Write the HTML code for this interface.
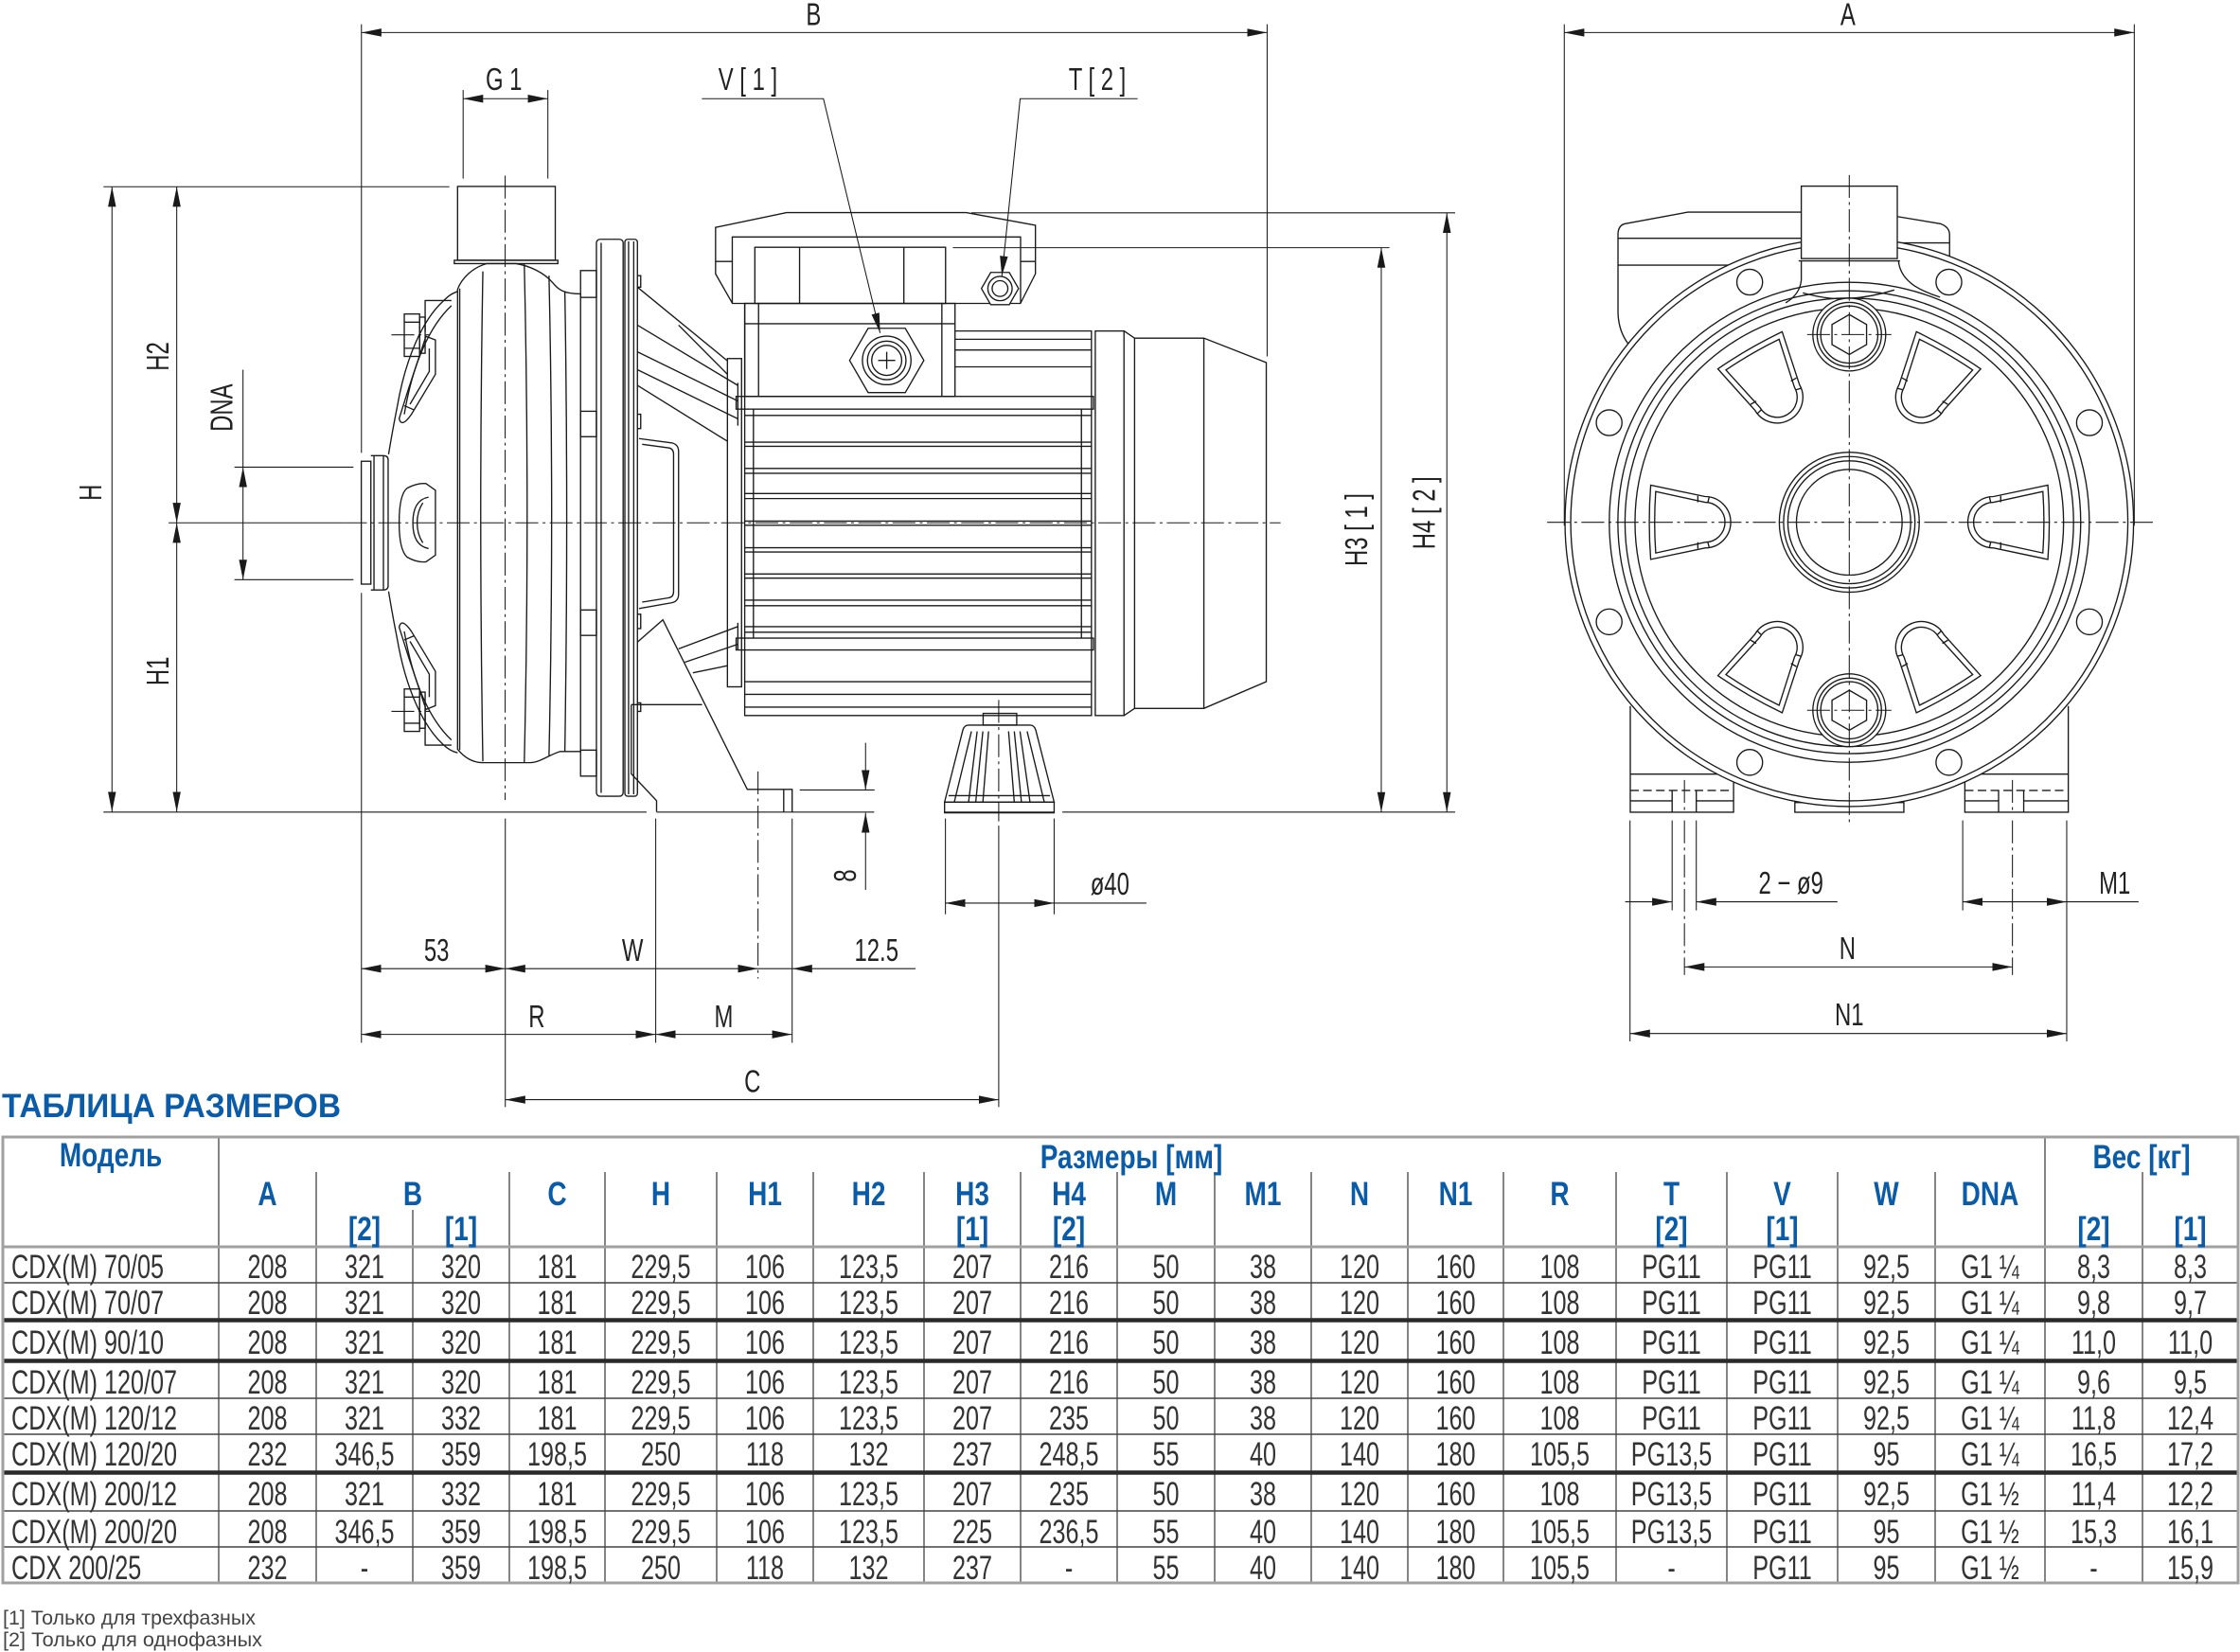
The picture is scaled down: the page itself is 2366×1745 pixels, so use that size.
<!DOCTYPE html>
<html><head><meta charset="utf-8"><style>
html,body{margin:0;padding:0;background:#fff;}
svg{display:block;}
.l{stroke:#1a1a1a;stroke-width:0.9;fill:none;}
.d{stroke:#1a1a1a;stroke-width:0.7;fill:none;}
.c{stroke:#1a1a1a;stroke-width:0.7;fill:none;stroke-dasharray:16 3 2 3;}
.dl{font-family:"Liberation Sans",sans-serif;font-size:22px;fill:#222;text-anchor:middle;}
.hb{font-family:"Liberation Sans","Noto Sans CJK SC",sans-serif;font-weight:bold;font-size:35px;fill:#0a5ca8;text-anchor:middle;}
.td{font-family:"Liberation Sans",sans-serif;font-size:35px;fill:#333;text-anchor:middle;}
.tm{font-family:"Liberation Sans",sans-serif;font-size:35px;fill:#333;text-anchor:start;}
</style></head><body>
<svg width="2366" height="1745" viewBox="0 0 2366 1745" xmlns="http://www.w3.org/2000/svg">
<defs>
<marker id="ar" viewBox="0 -3 14 6" refX="14" refY="0" markerWidth="14" markerHeight="6" markerUnits="userSpaceOnUse" orient="auto-start-reverse"><path d="M0,-2.8 L14,0 L0,2.8 z" fill="#1a1a1a"/></marker>
<g id="win" class="l">
<path d="M139,-26 L101,-18 A18,18 0 0 0 101,18 L139,26 Q141,0 139,-26 Z" fill="#fff"/>
<path d="M135.5,-21.5 L101,-14 A14,14 0 0 0 101,14 L135.5,21.5 Q137,0 135.5,-21.5 Z"/>
<path d="M106,-18.5 L106,-14 M106,18.5 L106,14 M98,-18 L99,-14 M98,18 L99,14"/>
</g>
</defs>

<g transform="scale(1.50893)">
<!-- ================= SIDE VIEW ================= -->
<!-- outlet pipe -->
<g class="l">
<rect x="320.3" y="130.5" width="68.4" height="51.7"/>
<path d="M318,182.2 H390.5 V184.5 H318 Z"/>
<!-- body -->
<path d="M320.3,202.6 C323,195 331,187 341,184.5 L361,184.5 C371,186 381,191 387,198 C391,203 395,205.7 406.4,205.7 L406.4,526.1 L392,526.1 C385,528 378,533.9 371,533.9 L338,533.9 C330,533.9 324,529 320.3,524.5 Z"/>
<line x1="321.8" y1="202" x2="321.8" y2="525"/>
<path d="M338,190 Q335,360 338,533"/>
<path d="M367,184.5 Q371,360 367,533.9"/>
<path d="M384.3,193 Q388,360 384.3,529"/>
<path d="M395.4,204 Q398,360 395.4,526"/>
<!-- front cover -->
<path d="M320.3,204 C315,206 313,208 310,211 C296,224 284,250 278,285 C275,300 273,312 272,318 M272,414 C273,420 275,432 278,447 C284,482 296,508 310,521 C313,524 316,526 320.3,527"/>
<path d="M316,214 C301,228 289,254 283,290 M283,442 C289,478 301,504 316,518"/>
<path d="M297.6,210 L297.6,232 M297.6,496 L297.6,522 M297.6,210.4 L316,210.4 M297.6,521.6 L316,521.6"/>
<!-- inlet -->
<rect x="252.9" y="322.9" width="6.7" height="86"/>
<path d="M259.6,319 L268.4,319 Q271.7,319 271.7,322 L271.7,410 Q271.7,413 268.4,413 L259.6,413"/>
<line x1="261.8" y1="319" x2="261.8" y2="413"/>
<line x1="268.4" y1="319" x2="268.4" y2="413"/>
<!-- bolts -->
<rect x="283" y="219.8" width="10.7" height="29.7"/>
<path d="M283,225.5 H293.7 M283,243.8 H293.7"/>
<rect x="293.7" y="222" width="3.9" height="25.3"/>
<rect x="283" y="482.3" width="10.7" height="29.7"/>
<path d="M283,488 H293.7 M283,506.3 H293.7"/>
<rect x="293.7" y="484.5" width="3.9" height="25.3"/>
<!-- cover windows -->
<path d="M298.2,235.4 L304.8,238 L304.8,262 L288,290 Q281,300 279.4,293 L286,272 Z"/>
<path d="M300.5,244 L300.5,260 L287,283 M283,284 L290,287"/>
<path d="M285,341.7 Q292,338 298.2,338.5 L304.8,343.2 L304.8,388.6 L298.2,393.3 Q292,394 285,390 Q279.4,385 279.4,366 Q279.4,346 285,341.7 Z"/>
<path d="M300,348 Q289,350 289,366 Q289,382 300,384 M296,352 Q292,358 292,366 Q292,374 296,380"/>
<path d="M298.2,496.6 L304.8,494 L304.8,470 L288,442 Q281,432 279.4,439 L286,460 Z"/>
<path d="M300.5,488 L300.5,472 L287,449 M283,448 L290,445"/>
<!-- flange lugs -->
<rect x="406.4" y="189.4" width="11.1" height="18.8"/>
<rect x="406.4" y="287.9" width="11.1" height="17.8"/>
<rect x="406.4" y="427" width="11.1" height="17.8"/>
<rect x="406.4" y="525.1" width="11.1" height="18.2"/>
<!-- flange & plate -->
<rect x="417.5" y="167.5" width="18.7" height="389.9" rx="2.5"/>
<line x1="420.8" y1="170" x2="420.8" y2="555"/>
<rect x="437.4" y="167.5" width="8.8" height="389.9" rx="2"/>
<line x1="440" y1="169" x2="440" y2="556"/>
<line x1="443.6" y1="169" x2="443.6" y2="556"/>
<path d="M446.2,193 h2.3 v8 h-2.3 M446.2,290 h2.3 v10 h-2.3 M446.2,430 h2.3 v10 h-2.3 M446.2,492 h2.3 v6 h-2.3"/>
<!-- bracket -->
<path d="M446.2,201 L509.2,252.6 M475,227.6 L509.2,262"/>
<path d="M446.2,227.6 L516.5,269.8 M446.2,246.3 L516.5,280.7 M446.2,258.8 L516.5,293.2 M446.2,269.8 L509.2,308.9 M516.5,268 L516.5,298"/>
<path d="M447.3,307 L470,310 Q475,311 475,316 L475,416 Q475,421 470,422 L447.3,426"/>
<path d="M449.5,311 L468,313.5 Q471.5,314 471.5,318 L471.5,414 Q471.5,418 468,418.5 L449.5,421.5"/>
<path d="M446.2,449.5 L464,433.9 L523.1,552.6 L554.5,552.6 L554.5,568.3 M548.6,552.6 L548.6,568.3"/>
<path d="M475,454.2 L516.5,438.6 M479.4,463.6 L516.5,451 M485,471 L509.2,466 M516.5,436 L516.5,455"/>
<path d="M441.9,493.3 L491.5,493.3 M441.9,493.3 L441.9,541.7 L459.6,560.5 L459.6,568.3"/>
<rect x="509.2" y="251" width="9.9" height="229.8"/>
<!-- terminal box cover -->
<path d="M500.9,159.2 L550.6,148.8 L676.4,148.8 L724.8,157.7 L724.8,191.7 L714.3,212.4 L512.7,212.4 L500.9,191.7 Z"/>
<path d="M512.6,212.4 L512.6,165.9 L714.4,165.9 L714.4,212.4 M500.9,183 H512.6 M714.4,183 H724.8"/>
<rect x="528.4" y="173.1" width="133.5" height="39.3" fill="#fff"/>
<path d="M559.7,173.1 V212.4 M632.7,173.1 V212.4"/>
<!-- terminal box body -->
<rect x="521.3" y="212.4" width="147.2" height="65.1"/>
<path d="M531,212.4 V277.5 M659.3,212.4 V277.5 M521.3,226.6 H668.5"/>
<!-- V gland -->
<path d="M646.7,252.3 L633.7,229.8 L607.7,229.8 L594.7,252.3 L607.7,274.8 L633.7,274.8 Z" fill="#fff"/>
<circle cx="620.7" cy="252.3" r="17"/>
<circle cx="620.7" cy="252.3" r="13.5"/>
<circle cx="620.7" cy="252.3" r="10.5"/>
<path d="M614.7,252.3 H626.7 M620.7,246.3 V258.3"/>
<!-- T gland -->
<path d="M713,202 L706.5,190.7 L693.5,190.7 L687,202 L693.5,213.3 L706.5,213.3 Z" fill="#fff"/>
<circle cx="700" cy="202" r="8.5"/>
<circle cx="700" cy="202" r="5.5"/>
<!-- motor frame -->
<path d="M521.3,212.4 V500.9 H764 V231.7 H668.5"/>
<path d="M668.5,237.5 H764 M668.5,245 H764 M668.5,256.8 H764"/>
<rect x="515.3" y="277.5" width="250.1" height="8.9"/>
<rect x="515.3" y="446.7" width="250.1" height="8.3"/>
<path d="M521.3,290.8 H764 M521.3,309.5 H764 M521.3,312.4 H764 M521.3,327.9 H764 M521.3,331.3 H764 M521.3,345.5 H764 M521.3,349 H764 M521.3,364.8 H764 M521.3,367.7 H764 M521.3,383.4 H764 M521.3,386.4 H764 M521.3,401.8 H764 M521.3,404.7 H764 M521.3,420.1 H764 M521.3,424 H764 M521.3,438.7 H764 M521.3,442.6 H764 M521.3,477.2 H764 M521.3,486.1 H764 M521.3,495 H764"/>
<path d="M527.4,286.4 V446.7 M757,286.4 V446.7"/>
<!-- end cap & fan cover -->
<rect x="766.7" y="231.7" width="20.1" height="269.2"/>
<path d="M786.8,231.7 L794.2,236.7 L842.7,236.7 L886.4,253.8 L886.4,477.2 L842.7,495.9 L794.2,495.9 L786.8,500.9 M794.2,236.7 V495.9 M842.7,236.7 V495.9"/>
<!-- motor foot -->
<rect x="688.2" y="499.4" width="23.5" height="8.2"/>
<path d="M678,507.6 L721,507.6 Q724,507.6 725,511 L737.9,561.5 L661.2,561.5 L674,511 Q675,507.6 678,507.6 Z"/>
<rect x="661.2" y="561.5" width="76.7" height="7.5"/>
<path d="M680,512 L668,561.5 M684,512 L678,561.5 M688,512 L683,561.5 M692,512 L688,561.5 M706,512 L710,561.5 M710,512 L715,561.5 M714,512 L721,561.5 M719,512 L731,561.5 M664,557 H735"/>
</g>

<!-- side view centre lines -->
<line class="c" x1="240.8" y1="366" x2="896.4" y2="366"/>
<line class="c" x1="353.6" y1="122.9" x2="353.6" y2="560"/>
<line class="c" x1="699.1" y1="490" x2="699.1" y2="575"/>
<line class="c" x1="274" y1="234.4" x2="301" y2="234.4"/>
<line class="c" x1="274" y1="498" x2="301" y2="498"/>
<line class="c" x1="530.6" y1="540" x2="530.6" y2="685"/>

<!-- side view dimensions -->
<g class="d">
<line x1="253" y1="22.8" x2="887" y2="22.8" marker-start="url(#ar)" marker-end="url(#ar)"/>
<line x1="253" y1="17" x2="253" y2="317"/>
<line x1="253" y1="415" x2="253" y2="730"/>
<line x1="887" y1="17" x2="887" y2="249.5"/>
<line x1="324.2" y1="69.1" x2="383.5" y2="69.1" marker-start="url(#ar)" marker-end="url(#ar)"/>
<line x1="324.2" y1="63" x2="324.2" y2="125"/>
<line x1="383.5" y1="63" x2="383.5" y2="125"/>
<polyline points="491.3,69.1 576.4,69.1 616.1,233.1" marker-end="url(#ar)"/>
<polyline points="796.3,69.1 714.1,69.1 701.3,193.2" marker-end="url(#ar)"/>
<line x1="78.4" y1="130.7" x2="78.4" y2="568.3" marker-start="url(#ar)" marker-end="url(#ar)"/>
<line x1="123.7" y1="130.7" x2="123.7" y2="366" marker-start="url(#ar)" marker-end="url(#ar)"/>
<line x1="123.7" y1="366" x2="123.7" y2="568.3" marker-start="url(#ar)" marker-end="url(#ar)"/>
<line x1="72.4" y1="130.7" x2="314.6" y2="130.7"/>
<line x1="118" y1="366" x2="240.8" y2="366"/>
<line x1="170.1" y1="258.8" x2="170.1" y2="327"/>
<line x1="170.1" y1="366" x2="170.1" y2="327" marker-end="url(#ar)"/>
<line x1="170.1" y1="366" x2="170.1" y2="405.8" marker-end="url(#ar)"/>
<line x1="164.1" y1="327" x2="247.4" y2="327"/>
<line x1="164.1" y1="405.8" x2="247.4" y2="405.8"/>
<line x1="72.4" y1="568.5" x2="452.6" y2="568.5"/>
<line x1="459.6" y1="568.5" x2="611.9" y2="568.5"/>
<line x1="661.2" y1="568.5" x2="737.9" y2="568.5"/>
<line x1="743.6" y1="568.5" x2="1018.6" y2="568.5"/>
<line x1="966.9" y1="173.4" x2="966.9" y2="568.5" marker-start="url(#ar)" marker-end="url(#ar)"/>
<line x1="667" y1="173.4" x2="972.6" y2="173.4"/>
<line x1="1012.8" y1="149" x2="1012.8" y2="568.5" marker-start="url(#ar)" marker-end="url(#ar)"/>
<line x1="680" y1="149" x2="1018.6" y2="149"/>
<line x1="605.9" y1="520" x2="605.9" y2="553" marker-end="url(#ar)"/>
<line x1="605.9" y1="623" x2="605.9" y2="569" marker-end="url(#ar)"/>
<line x1="559.8" y1="553" x2="612.2" y2="553"/>
<line x1="661.8" y1="632.2" x2="737.9" y2="632.2" marker-start="url(#ar)" marker-end="url(#ar)"/>
<line x1="737.9" y1="632.2" x2="802.5" y2="632.2"/>
<line x1="661.8" y1="573" x2="661.8" y2="640"/>
<line x1="737.9" y1="573" x2="737.9" y2="640"/>
<line x1="252.9" y1="678.1" x2="353.7" y2="678.1" marker-start="url(#ar)" marker-end="url(#ar)"/>
<line x1="353.7" y1="678.1" x2="530.6" y2="678.1" marker-start="url(#ar)" marker-end="url(#ar)"/>
<line x1="530.6" y1="678.1" x2="554.5" y2="678.1"/>
<line x1="640.9" y1="678.1" x2="554.5" y2="678.1" marker-end="url(#ar)"/>
<line x1="252.9" y1="724.1" x2="459" y2="724.1" marker-start="url(#ar)" marker-end="url(#ar)"/>
<line x1="459" y1="724.1" x2="554.5" y2="724.1" marker-start="url(#ar)" marker-end="url(#ar)"/>
<line x1="353.7" y1="769.8" x2="699.1" y2="769.8" marker-start="url(#ar)" marker-end="url(#ar)"/>
<line x1="353.7" y1="573" x2="353.7" y2="775"/>
<line x1="459" y1="573" x2="459" y2="730"/>
<line x1="554.5" y1="573" x2="554.5" y2="730"/>
<line x1="699.1" y1="578" x2="699.1" y2="775"/>
</g>

<!-- side view labels -->
<g class="dl">
<text transform="translate(569.5,17.7) scale(0.72,1)">B</text>
<text transform="translate(352.7,63) scale(0.72,1)">G 1</text>
<text transform="translate(523.5,63) scale(0.72,1)">V [ 1 ]</text>
<text transform="translate(768.1,63) scale(0.72,1)">T [ 2 ]</text>
<text transform="translate(305.6,672.6) scale(0.72,1)">53</text>
<text transform="translate(442.8,672.6) scale(0.72,1)">W</text>
<text transform="translate(613.5,672.6) scale(0.72,1)">12.5</text>
<text transform="translate(375.7,719) scale(0.72,1)">R</text>
<text transform="translate(506.6,719) scale(0.72,1)">M</text>
<text transform="translate(526.7,764.3) scale(0.72,1)">C</text>
<text transform="translate(776.9,626.2) scale(0.72,1)">ø40</text>
<text transform="translate(63,344.8) rotate(-90) scale(0.72,1)" y="8">H</text>
<text transform="translate(110,249.5) rotate(-90) scale(0.72,1)" y="8">H2</text>
<text transform="translate(110,469.8) rotate(-90) scale(0.72,1)" y="8">H1</text>
<text transform="translate(154.6,285.4) rotate(-90) scale(0.72,1)" y="8">DNA</text>
<text transform="translate(948.8,370.8) rotate(-90) scale(0.72,1)" y="8">H3 [ 1 ]</text>
<text transform="translate(996.2,359) rotate(-90) scale(0.72,1)" y="8">H4 [ 2 ]</text>
<text transform="translate(591,613) rotate(-90) scale(0.72,1)" y="8">8</text>
</g>

<!-- ================= FRONT VIEW ================= -->
<g class="l">
<!-- terminal box behind -->
<path d="M1260.9,148.5 L1181.5,148.5 L1137.2,156.7 Q1132.6,158 1132.6,164.3 L1132.6,219 Q1133,232 1140,241"/>
<path d="M1132.6,166.8 H1260.9 M1132.6,185.6 H1260.9"/>
<path d="M1328.1,151.6 L1358.6,156.7 Q1364.7,159 1364.7,164.3 L1364.7,182 M1328.1,170 H1364.7"/>
<!-- feet -->
<path d="M1141.2,494.2 V568.6 H1213.5 V541.9 H1141.2 M1141.2,560.6 H1170.5 M1187.4,560.6 H1213.5 M1170.5,553.3 V568.6 M1187.4,553.3 V568.6"/>
<path d="M1447.8,494.2 V568.6 H1375.4 V541.9 H1447.8 M1447.8,560.6 H1416.6 M1399,560.6 H1375.4 M1416.6,553.3 V568.6 M1399,553.3 V568.6"/>
<path d="M1141.2,553.3 H1213.5 M1375.4,553.3 H1447.8" stroke-dasharray="6 3"/>
<rect x="1256.4" y="561.8" width="76.3" height="6.8"/>
<!-- flange rings -->
<circle cx="1294.5" cy="365.6" r="199" fill="#fff"/>
<circle cx="1294.5" cy="365.6" r="195"/>
<circle cx="1294.5" cy="365.6" r="168"/>
<circle cx="1294.5" cy="365.6" r="162"/>
<circle cx="1294.5" cy="365.6" r="157"/>
<circle cx="1294.5" cy="365.6" r="150"/>
<!-- bolt holes -->
<circle cx="1224.8" cy="197.5" r="9"/>
<circle cx="1364.2" cy="197.5" r="9"/>
<circle cx="1224.8" cy="533.7" r="9"/>
<circle cx="1364.2" cy="533.7" r="9"/>
<circle cx="1126.4" cy="295.9" r="9"/>
<circle cx="1462.6" cy="295.9" r="9"/>
<circle cx="1126.4" cy="435.3" r="9"/>
<circle cx="1462.6" cy="435.3" r="9"/>
<!-- outlet pipe front -->
<rect x="1260.9" y="130.3" width="67.2" height="50.7" fill="#fff"/>
<path d="M1259,182.6 H1330 M1260.9,183 L1260.9,196 Q1260,206 1250,212 M1329,183 Q1330,193 1340,200 Q1348,205 1358,208 M1262,205 Q1280,210 1294,209 Q1310,208 1326,203"/>
<!-- hub -->
<circle cx="1294.5" cy="365.6" r="49"/>
<circle cx="1294.5" cy="365.6" r="46"/>
<circle cx="1294.5" cy="365.6" r="43"/>
<circle cx="1294.5" cy="365.6" r="37"/>
<!-- plugs -->
<circle cx="1294.5" cy="234.2" r="25.5" fill="#fff"/>
<circle cx="1294.5" cy="234.2" r="22.5"/>
<circle cx="1294.5" cy="234.2" r="20"/>
<path d="M1294.5,220.2 L1306.6,227.2 L1306.6,241.2 L1294.5,248.2 L1282.4,241.2 L1282.4,227.2 Z"/>
<circle cx="1294.5" cy="497.2" r="25.5" fill="#fff"/>
<circle cx="1294.5" cy="497.2" r="22.5"/>
<circle cx="1294.5" cy="497.2" r="20"/>
<path d="M1294.5,483.2 L1306.6,490.2 L1306.6,504.2 L1294.5,511.2 L1282.4,504.2 L1282.4,490.2 Z"/>
</g>
<!-- windows -->
<use href="#win" transform="translate(1294.5,365.6) rotate(0)"/>
<use href="#win" transform="translate(1294.5,365.6) rotate(60)"/>
<use href="#win" transform="translate(1294.5,365.6) rotate(120)"/>
<use href="#win" transform="translate(1294.5,365.6) rotate(180)"/>
<use href="#win" transform="translate(1294.5,365.6) rotate(240)"/>
<use href="#win" transform="translate(1294.5,365.6) rotate(300)"/>

<!-- front centre lines -->
<line class="c" x1="1083" y1="365.6" x2="1510" y2="365.6"/>
<line class="c" x1="1294.5" y1="122.5" x2="1294.5" y2="577"/>
<line class="c" x1="1265" y1="234.2" x2="1324" y2="234.2"/>
<line class="c" x1="1265" y1="497.2" x2="1324" y2="497.2"/>
<line class="c" x1="1179.1" y1="546" x2="1179.1" y2="568.6"/>
<line class="c" x1="1408.7" y1="546" x2="1408.7" y2="568.6"/>
<line class="c" x1="1179.1" y1="574.3" x2="1179.1" y2="682.5"/>
<line class="c" x1="1408.7" y1="574.3" x2="1408.7" y2="682.5"/>

<!-- front dimensions -->
<g class="d">
<line x1="1095" y1="22.8" x2="1494" y2="22.8" marker-start="url(#ar)" marker-end="url(#ar)"/>
<line x1="1095" y1="17" x2="1095" y2="368"/>
<line x1="1494" y1="17" x2="1494" y2="368"/>
<line x1="1141" y1="574.3" x2="1141" y2="729"/>
<line x1="1170.5" y1="574.3" x2="1170.5" y2="637.3"/>
<line x1="1187.4" y1="574.3" x2="1187.4" y2="637.3"/>
<line x1="1373.9" y1="574.3" x2="1373.9" y2="637.3"/>
<line x1="1446.7" y1="574.3" x2="1446.7" y2="729"/>
<line x1="1137.6" y1="631.3" x2="1170.5" y2="631.3" marker-end="url(#ar)"/>
<line x1="1286.2" y1="631.3" x2="1187.4" y2="631.3" marker-end="url(#ar)"/>
<line x1="1373.9" y1="631.3" x2="1446.7" y2="631.3" marker-start="url(#ar)" marker-end="url(#ar)"/>
<line x1="1446.7" y1="631.3" x2="1497" y2="631.3"/>
<line x1="1179.1" y1="676.9" x2="1408.7" y2="676.9" marker-start="url(#ar)" marker-end="url(#ar)"/>
<line x1="1141" y1="723.5" x2="1446.7" y2="723.5" marker-start="url(#ar)" marker-end="url(#ar)"/>
</g>
<g class="dl">
<text transform="translate(1293.5,17.7) scale(0.72,1)">A</text>
<text transform="translate(1253.7,625.6) scale(0.72,1)">2 − ø9</text>
<text transform="translate(1480.3,625.6) scale(0.72,1)">M1</text>
<text transform="translate(1293.2,671.5) scale(0.72,1)">N</text>
<text transform="translate(1294.5,717.8) scale(0.72,1)">N1</text>
</g>
</g>

<!-- ================= TABLE ================= -->
<text x="2" y="1180" class="hb" style="text-anchor:start" textLength="358" lengthAdjust="spacingAndGlyphs">ТАБЛИЦА РАЗМЕРОВ</text>

<g fill="none">
<path d="M231,1201 V1672 M2160,1201 V1672" stroke="#666" stroke-width="1.6"/>
<path d="M334,1238 V1672 M538,1238 V1672 M639,1238 V1672 M757,1238 V1672 M859,1238 V1672 M976,1238 V1672 M1078,1238 V1672 M1180,1238 V1672 M1283,1238 V1672 M1385,1238 V1672 M1487,1238 V1672 M1588,1238 V1672 M1707,1238 V1672 M1824,1238 V1672 M1941,1238 V1672 M2044,1238 V1672 M2263,1238 V1672 M436,1278 V1672" stroke="#666" stroke-width="1.6"/>
<path d="M3,1355 H2364 M3,1477 H2364 M3,1515 H2364 M3,1596 H2364 M3,1634 H2364" stroke="#444" stroke-width="1.6"/>
<path d="M3,1394.5 H2364 M3,1437.5 H2364 M3,1555.5 H2364" stroke="#2a2a2a" stroke-width="4.5"/>
<path d="M3,1317 H2364" stroke="#a0a0a0" stroke-width="3"/>
<rect x="3" y="1201" width="2361" height="471" stroke="#a0a0a0" stroke-width="3"/>
</g>

<g transform="scale(0.8,1)" class="hb">
<text x="146.3" y="1232">Модель</text>
<text x="1493.8" y="1234">Размеры [мм]</text>
<text x="2827.5" y="1234">Вес [кг]</text>
<text y="1273"><tspan x="353.1">A</tspan><tspan x="545">B</tspan><tspan x="735.6">C</tspan><tspan x="872.5">H</tspan><tspan x="1010">H1</tspan><tspan x="1146.9">H2</tspan><tspan x="1283.8">H3</tspan><tspan x="1411.3">H4</tspan><tspan x="1539.4">M</tspan><tspan x="1667.5">M1</tspan><tspan x="1795">N</tspan><tspan x="1921.9">N1</tspan><tspan x="2059.4">R</tspan><tspan x="2206.9">T</tspan><tspan x="2353.1">V</tspan><tspan x="2490.6">W</tspan><tspan x="2627.5">DNA</tspan></text>
<text y="1310"><tspan x="481.3">[2]</tspan><tspan x="608.8">[1]</tspan><tspan x="1283.8">[1]</tspan><tspan x="1411.3">[2]</tspan><tspan x="2206.9">[2]</tspan><tspan x="2353.1">[1]</tspan><tspan x="2764.4">[2]</tspan><tspan x="2891.9">[1]</tspan></text>
</g>

<g transform="scale(0.72,1)">
<text class="tm" x="16.7" y="1350">CDX(M) 70/05</text>
<text class="tm" x="16.7" y="1388">CDX(M) 70/07</text>
<text class="tm" x="16.7" y="1430">CDX(M) 90/10</text>
<text class="tm" x="16.7" y="1472">CDX(M) 120/07</text>
<text class="tm" x="16.7" y="1510">CDX(M) 120/12</text>
<text class="tm" x="16.7" y="1548">CDX(M) 120/20</text>
<text class="tm" x="16.7" y="1590">CDX(M) 200/12</text>
<text class="tm" x="16.7" y="1630">CDX(M) 200/20</text>
<text class="tm" x="16.7" y="1668">CDX 200/25</text>

<text class="td" y="1350"><tspan x="392.4">208</tspan><tspan x="534.7">321</tspan><tspan x="676.4">320</tspan><tspan x="817.4">181</tspan><tspan x="969.4">229,5</tspan><tspan x="1122.2">106</tspan><tspan x="1274.3">123,5</tspan><tspan x="1426.4">207</tspan><tspan x="1568.1">216</tspan><tspan x="1710.4">50</tspan><tspan x="1852.8">38</tspan><tspan x="1994.4">120</tspan><tspan x="2135.4">160</tspan><tspan x="2288.2">108</tspan><tspan x="2452.1">PG11</tspan><tspan x="2614.6">PG11</tspan><tspan x="2767.4">92,5</tspan><tspan x="2919.4">G1 ¼</tspan><tspan x="3071.5">8,3</tspan><tspan x="3213.2">8,3</tspan></text>

<text class="td" y="1388"><tspan x="392.4">208</tspan><tspan x="534.7">321</tspan><tspan x="676.4">320</tspan><tspan x="817.4">181</tspan><tspan x="969.4">229,5</tspan><tspan x="1122.2">106</tspan><tspan x="1274.3">123,5</tspan><tspan x="1426.4">207</tspan><tspan x="1568.1">216</tspan><tspan x="1710.4">50</tspan><tspan x="1852.8">38</tspan><tspan x="1994.4">120</tspan><tspan x="2135.4">160</tspan><tspan x="2288.2">108</tspan><tspan x="2452.1">PG11</tspan><tspan x="2614.6">PG11</tspan><tspan x="2767.4">92,5</tspan><tspan x="2919.4">G1 ¼</tspan><tspan x="3071.5">9,8</tspan><tspan x="3213.2">9,7</tspan></text>

<text class="td" y="1430"><tspan x="392.4">208</tspan><tspan x="534.7">321</tspan><tspan x="676.4">320</tspan><tspan x="817.4">181</tspan><tspan x="969.4">229,5</tspan><tspan x="1122.2">106</tspan><tspan x="1274.3">123,5</tspan><tspan x="1426.4">207</tspan><tspan x="1568.1">216</tspan><tspan x="1710.4">50</tspan><tspan x="1852.8">38</tspan><tspan x="1994.4">120</tspan><tspan x="2135.4">160</tspan><tspan x="2288.2">108</tspan><tspan x="2452.1">PG11</tspan><tspan x="2614.6">PG11</tspan><tspan x="2767.4">92,5</tspan><tspan x="2919.4">G1 ¼</tspan><tspan x="3071.5">11,0</tspan><tspan x="3213.2">11,0</tspan></text>

<text class="td" y="1472"><tspan x="392.4">208</tspan><tspan x="534.7">321</tspan><tspan x="676.4">320</tspan><tspan x="817.4">181</tspan><tspan x="969.4">229,5</tspan><tspan x="1122.2">106</tspan><tspan x="1274.3">123,5</tspan><tspan x="1426.4">207</tspan><tspan x="1568.1">216</tspan><tspan x="1710.4">50</tspan><tspan x="1852.8">38</tspan><tspan x="1994.4">120</tspan><tspan x="2135.4">160</tspan><tspan x="2288.2">108</tspan><tspan x="2452.1">PG11</tspan><tspan x="2614.6">PG11</tspan><tspan x="2767.4">92,5</tspan><tspan x="2919.4">G1 ¼</tspan><tspan x="3071.5">9,6</tspan><tspan x="3213.2">9,5</tspan></text>

<text class="td" y="1510"><tspan x="392.4">208</tspan><tspan x="534.7">321</tspan><tspan x="676.4">332</tspan><tspan x="817.4">181</tspan><tspan x="969.4">229,5</tspan><tspan x="1122.2">106</tspan><tspan x="1274.3">123,5</tspan><tspan x="1426.4">207</tspan><tspan x="1568.1">235</tspan><tspan x="1710.4">50</tspan><tspan x="1852.8">38</tspan><tspan x="1994.4">120</tspan><tspan x="2135.4">160</tspan><tspan x="2288.2">108</tspan><tspan x="2452.1">PG11</tspan><tspan x="2614.6">PG11</tspan><tspan x="2767.4">92,5</tspan><tspan x="2919.4">G1 ¼</tspan><tspan x="3071.5">11,8</tspan><tspan x="3213.2">12,4</tspan></text>

<text class="td" y="1548"><tspan x="392.4">232</tspan><tspan x="534.7">346,5</tspan><tspan x="676.4">359</tspan><tspan x="817.4">198,5</tspan><tspan x="969.4">250</tspan><tspan x="1122.2">118</tspan><tspan x="1274.3">132</tspan><tspan x="1426.4">237</tspan><tspan x="1568.1">248,5</tspan><tspan x="1710.4">55</tspan><tspan x="1852.8">40</tspan><tspan x="1994.4">140</tspan><tspan x="2135.4">180</tspan><tspan x="2288.2">105,5</tspan><tspan x="2452.1">PG13,5</tspan><tspan x="2614.6">PG11</tspan><tspan x="2767.4">95</tspan><tspan x="2919.4">G1 ¼</tspan><tspan x="3071.5">16,5</tspan><tspan x="3213.2">17,2</tspan></text>

<text class="td" y="1590"><tspan x="392.4">208</tspan><tspan x="534.7">321</tspan><tspan x="676.4">332</tspan><tspan x="817.4">181</tspan><tspan x="969.4">229,5</tspan><tspan x="1122.2">106</tspan><tspan x="1274.3">123,5</tspan><tspan x="1426.4">207</tspan><tspan x="1568.1">235</tspan><tspan x="1710.4">50</tspan><tspan x="1852.8">38</tspan><tspan x="1994.4">120</tspan><tspan x="2135.4">160</tspan><tspan x="2288.2">108</tspan><tspan x="2452.1">PG13,5</tspan><tspan x="2614.6">PG11</tspan><tspan x="2767.4">92,5</tspan><tspan x="2919.4">G1 ½</tspan><tspan x="3071.5">11,4</tspan><tspan x="3213.2">12,2</tspan></text>

<text class="td" y="1630"><tspan x="392.4">208</tspan><tspan x="534.7">346,5</tspan><tspan x="676.4">359</tspan><tspan x="817.4">198,5</tspan><tspan x="969.4">229,5</tspan><tspan x="1122.2">106</tspan><tspan x="1274.3">123,5</tspan><tspan x="1426.4">225</tspan><tspan x="1568.1">236,5</tspan><tspan x="1710.4">55</tspan><tspan x="1852.8">40</tspan><tspan x="1994.4">140</tspan><tspan x="2135.4">180</tspan><tspan x="2288.2">105,5</tspan><tspan x="2452.1">PG13,5</tspan><tspan x="2614.6">PG11</tspan><tspan x="2767.4">95</tspan><tspan x="2919.4">G1 ½</tspan><tspan x="3071.5">15,3</tspan><tspan x="3213.2">16,1</tspan></text>

<text class="td" y="1668"><tspan x="392.4">232</tspan><tspan x="534.7">-</tspan><tspan x="676.4">359</tspan><tspan x="817.4">198,5</tspan><tspan x="969.4">250</tspan><tspan x="1122.2">118</tspan><tspan x="1274.3">132</tspan><tspan x="1426.4">237</tspan><tspan x="1568.1">-</tspan><tspan x="1710.4">55</tspan><tspan x="1852.8">40</tspan><tspan x="1994.4">140</tspan><tspan x="2135.4">180</tspan><tspan x="2288.2">105,5</tspan><tspan x="2452.1">-</tspan><tspan x="2614.6">PG11</tspan><tspan x="2767.4">95</tspan><tspan x="2919.4">G1 ½</tspan><tspan x="3071.5">-</tspan><tspan x="3213.2">15,9</tspan></text>
</g>

<text x="3" y="1716" font-family="Liberation Sans, sans-serif" font-size="21" fill="#444" textLength="267" lengthAdjust="spacingAndGlyphs">[1] Только для трехфазных</text>
<text x="3" y="1739" font-family="Liberation Sans, sans-serif" font-size="21" fill="#444" textLength="274" lengthAdjust="spacingAndGlyphs">[2] Только для однофазных</text>
</svg>
</body></html>
